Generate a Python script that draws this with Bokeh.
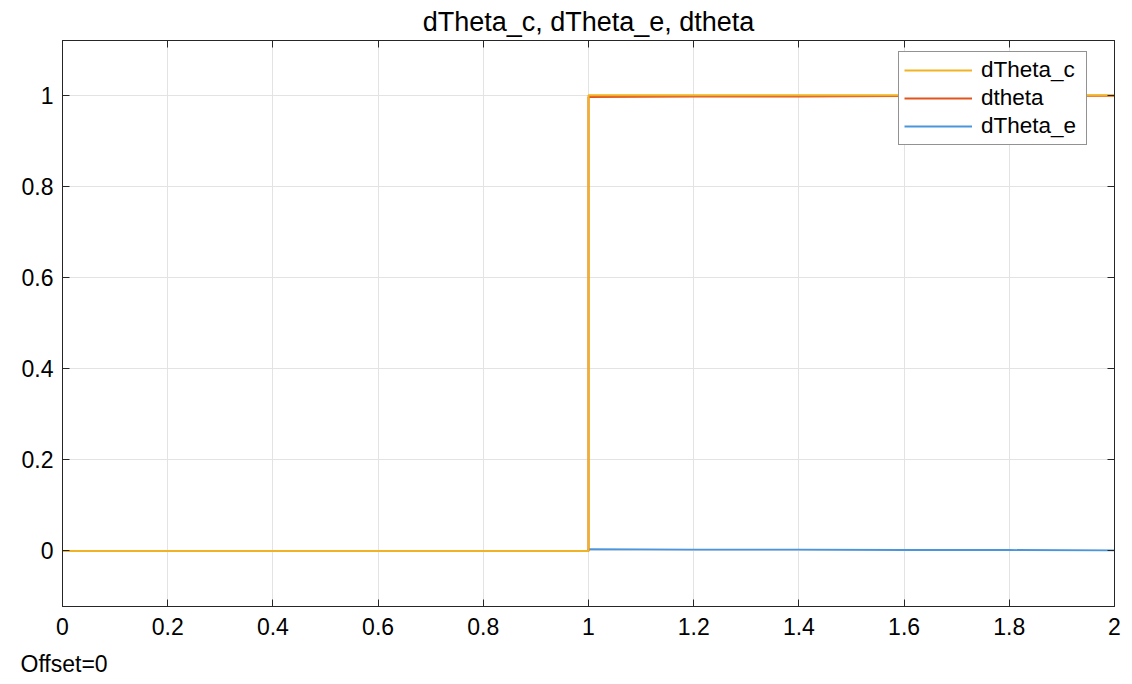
from bokeh.plotting import figure
from bokeh.models import FixedTicker, CustomJSTickFormatter, Range1d, Legend, LegendItem, Title, LinearAxis
from bokeh.embed import file_html
from bokeh.resources import INLINE

# data
t = [0.0, 1.0, 1.0, 1.2, 1.4, 1.6, 1.8, 2.0]
dTheta_c = [0.0, 0.0, 1.0, 1.0, 1.0, 1.0, 1.0, 1.0]
dtheta = [0.0, 0.0, 0.996, 0.997, 0.997, 0.998, 0.998, 0.999]
dTheta_e = [0.0, 0.0, 0.004, 0.003, 0.003, 0.002, 0.002, 0.001]
x_ticks = [0, 0.2, 0.4, 0.6, 0.8, 1.0, 1.2, 1.4, 1.6, 1.8, 2.0]
y_ticks = [0, 0.2, 0.4, 0.6, 0.8, 1.0]

FONT = "Liberation Sans"
DARK = "#262626"

p = figure(output_backend="svg", toolbar_location=None,
           x_range=Range1d(0, 2), y_range=Range1d(-0.122, 1.12),
           min_border_left=62, min_border_right=18, min_border_top=40, min_border_bottom=78)
p.frame_width = 1052
p.frame_height = 566

p.title.text = "dTheta_c, dTheta_e, dtheta"
p.title.align = "center"
p.title.text_font = FONT
p.title.text_font_size = "27px"
p.title.text_font_style = "normal"
p.title.text_color = "#000000"
p.title.standoff = 8

p.outline_line_color = DARK
p.outline_line_width = 1
p.outline_line_alpha = 1

fmt = CustomJSTickFormatter(code="return String(Number(tick.toFixed(2)));")
for ax, ticks in ((p.xaxis[0], x_ticks), (p.yaxis[0], y_ticks)):
    ax.ticker = FixedTicker(ticks=ticks)
    ax.formatter = fmt
    ax.major_label_text_font = FONT
    ax.major_label_text_font_size = "23px"
    ax.major_label_text_color = "#000000"
    ax.axis_line_color = DARK
    ax.major_tick_in = 7
    ax.major_tick_out = 0
    ax.minor_tick_line_color = None
    ax.major_tick_line_color = DARK
p.xaxis.major_label_standoff = 11
p.yaxis.major_label_standoff = 9

# ticks on the top and right edges (box style), no labels
blank = CustomJSTickFormatter(code="return '';")
for ticks, place in ((x_ticks, "above"), (y_ticks, "right")):
    ax2 = LinearAxis(ticker=FixedTicker(ticks=ticks), formatter=blank,
                     major_label_standoff=0, major_tick_in=7, major_tick_out=0,
                     minor_tick_line_color=None, axis_line_color=DARK,
                     major_tick_line_color=DARK)
    p.add_layout(ax2, place)

p.xgrid.ticker = FixedTicker(ticks=x_ticks)
p.ygrid.ticker = FixedTicker(ticks=y_ticks)
p.grid.grid_line_color = "#e3e3e3"
p.grid.grid_line_width = 1

r_e = p.line(t, dTheta_e, line_color="#4a95dc", line_width=1.8)
r_d = p.line(t, dtheta, line_color="#e2541b", line_width=2)
r_c = p.line(t, dTheta_c, line_color="#f0b323", line_width=2)

legend = Legend(items=[LegendItem(label="dTheta_c", renderers=[r_c]),
                       LegendItem(label="dtheta", renderers=[r_d]),
                       LegendItem(label="dTheta_e", renderers=[r_e])],
                location=(836, 461))
legend.border_line_color = DARK
legend.border_line_width = 1
legend.background_fill_alpha = 1
legend.label_text_font = FONT
legend.label_text_font_size = "22.5px"
legend.label_text_color = "#000000"
legend.glyph_width = 68
legend.glyph_height = 26
legend.label_height = 26
legend.label_width = 100
legend.spacing = 2
legend.padding = 5
legend.margin = 0
legend.label_standoff = 9
p.add_layout(legend, "center")

offset = Title(text="Offset=0", align="left", text_font=FONT, text_font_size="23px",
               text_font_style="normal", text_color="#000000", offset=-42, standoff=22)
p.add_layout(offset, "below")

open("out.html", "w").write(file_html(p, INLINE))
